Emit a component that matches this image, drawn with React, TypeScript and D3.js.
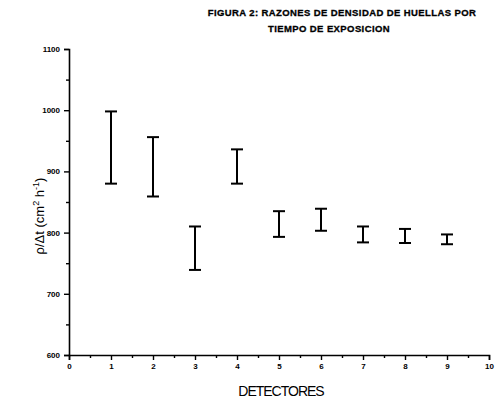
import React, { useEffect, useRef } from "react";
import * as d3 from "d3";

// detectors and measured track-density ratios (lower / upper end of each bar)
const detectors = [1, 2, 3, 4, 5, 6, 7, 8, 9];
const lowerValues = [880, 859, 739, 880, 793, 803, 784, 783, 781];
const upperValues = [998, 956, 810, 936, 835, 839, 810, 806, 797];
const xTicks = [0, 1, 2, 3, 4, 5, 6, 7, 8, 9, 10];
const yTicks = [600, 700, 800, 900, 1000, 1100];

const App: React.FC = () => {
  const svgRef = useRef<SVGSVGElement | null>(null);

  useEffect(() => {
    d3.select(svgRef.current).selectAll("*").remove();

    const w = 499;
    const h = 399;
    const m = { top: 49, right: 10, bottom: 44, left: 69 };

    const svg = d3
      .select(svgRef.current)
      .attr("width", w)
      .attr("height", h)
      .style("background-color", "#ffffff")
      .style("font-family", "'Liberation Sans', Arial, sans-serif");

    const xScale = d3.scaleLinear().domain([0, 10]).range([m.left, 489]);
    const yScale = d3.scaleLinear().domain([600, 1100]).range([h - m.bottom, m.top]);

    // minor ticks
    const xMinor = d3.range(0.5, 10, 1);
    const yMinor = d3.range(650, 1100, 100);

    const xAxis = svg
      .append("g")
      .attr("transform", `translate(0, ${yScale(600)})`)
      .call(
        d3.axisBottom(xScale).tickValues(xTicks).tickSize(5).tickPadding(3).tickFormat(d3.format("d"))
      );
    xAxis.selectAll("text").style("font-size", "8px").style("font-weight", "bold");

    svg
      .append("g")
      .attr("transform", `translate(0, ${yScale(600)})`)
      .call(d3.axisBottom(xScale).tickValues(xMinor).tickSize(3).tickFormat(() => ""))
      .select(".domain")
      .remove();

    const yAxis = svg
      .append("g")
      .attr("transform", `translate(${m.left}, 0)`)
      .call(
        d3.axisLeft(yScale).tickValues(yTicks).tickSize(5).tickPadding(4).tickFormat(d3.format("d"))
      );
    yAxis.selectAll("text").style("font-size", "8px").style("font-weight", "bold");

    svg
      .append("g")
      .attr("transform", `translate(${m.left}, 0)`)
      .call(d3.axisLeft(yScale).tickValues(yMinor).tickSize(3).tickFormat(() => ""))
      .select(".domain")
      .remove();

    svg.selectAll(".domain").attr("stroke", "#000").attr("stroke-width", 1.6);
    svg.selectAll(".tick line").attr("stroke", "#000").attr("stroke-width", 1.4);

    // error bars
    const bars = svg
      .selectAll(".ebar")
      .data(detectors.map((d, i) => ({ x: d, lo: lowerValues[i], hi: upperValues[i] })))
      .enter()
      .append("g")
      .attr("class", "ebar")
      .attr("stroke", "#000")
      .attr("stroke-width", 2);

    const cap = 6;
    bars
      .append("line")
      .attr("x1", d => xScale(d.x))
      .attr("x2", d => xScale(d.x))
      .attr("y1", d => yScale(d.lo))
      .attr("y2", d => yScale(d.hi));
    bars
      .append("line")
      .attr("x1", d => xScale(d.x) - cap)
      .attr("x2", d => xScale(d.x) + cap)
      .attr("y1", d => yScale(d.hi))
      .attr("y2", d => yScale(d.hi));
    bars
      .append("line")
      .attr("x1", d => xScale(d.x) - cap)
      .attr("x2", d => xScale(d.x) + cap)
      .attr("y1", d => yScale(d.lo))
      .attr("y2", d => yScale(d.lo));

    // title
    const title = svg
      .append("text")
      .attr("text-anchor", "middle")
      .style("font-size", "9.5px")
      .style("font-weight", "bold")
      .style("letter-spacing", "0.4px")
      .attr("stroke", "#000")
      .attr("stroke-width", 0.3);
    title.append("tspan").attr("x", 342).attr("y", 16).text("FIGURA 2: RAZONES DE DENSIDAD DE HUELLAS POR");
    title.append("tspan").attr("x", 329).attr("y", 32).text("TIEMPO DE EXPOSICION");

    // axis labels
    svg
      .append("text")
      .attr("text-anchor", "middle")
      .attr("x", 281)
      .attr("y", 396)
      .style("font-size", "14px")
      .style("letter-spacing", "-1px")
      .text("DETECTORES");

    const yLabel = svg
      .append("text")
      .attr("text-anchor", "middle")
      .attr("transform", `translate(44, 216) rotate(-90)`)
      .style("font-size", "13px");
    yLabel.append("tspan").text("ρ/Δt (cm");
    yLabel.append("tspan").attr("dy", -5).style("font-size", "9px").text("2");
    yLabel.append("tspan").attr("dy", 5).text(" h");
    yLabel.append("tspan").attr("dy", -5).style("font-size", "9px").text("-1");
    yLabel.append("tspan").attr("dy", 5).text(")");
  }, []);

  return (
    <svg ref={svgRef} style={{ position: "absolute", left: 0, top: 0 }}></svg>
  );
};

export default App;
